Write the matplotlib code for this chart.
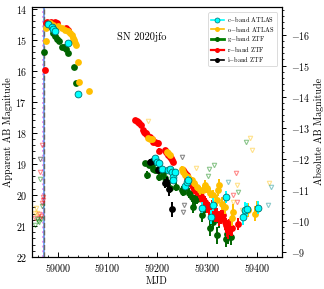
import matplotlib
matplotlib.use("Agg")
import matplotlib.pyplot as plt
from matplotlib.lines import Line2D
from matplotlib.ticker import MultipleLocator, AutoMinorLocator

plt.rcParams['font.family'] = 'serif'
plt.rcParams['font.serif'] = ['cmr10']
plt.rcParams['mathtext.fontset'] = 'cm'
plt.rcParams['axes.formatter.use_mathtext'] = True
plt.rcParams['axes.unicode_minus'] = True

DIST_MOD = 30.83

# ---- detections ----
r_mjd = [58974.0, 58975, 58978, 58982, 58986, 58990, 58994, 58998, 59017, 59021,
         59154.8, 59158.1, 59161.5, 59163.5, 59166.1, 59170.2, 59172.8, 59174.9, 59176.9, 59179.5,
         59183.6, 59184.9, 59188.2, 59191.6, 59195.0, 59198.3, 59201.7, 59203.7, 59215.0, 59217.1,
         59219.7, 59221.8, 59225.1, 59227.1, 59229.1, 59231.8, 59250.6, 59253.2, 59255.9, 59258.6,
         59260.0, 59262.6, 59265.3, 59268.7, 59270.7, 59273.3, 59276.7, 59280.0, 59284.1, 59286.7,
         59288.8, 59292.1, 59295.5, 59297.5, 59300.1, 59304.2, 59306.8, 59309.5, 59312.2, 59315.6,
         59318.9, 59322.9, 59326.9, 59331.0, 59335.7, 59337.7, 59340.3, 59342.4, 59344.4, 59347.0,
         59349.1, 59362.5]
r_mag = [15.97, 14.45, 14.44, 14.45, 14.43, 14.45, 14.44, 14.47, 14.62, 14.67,
         17.59, 17.61, 17.64, 17.69, 17.75, 17.91, 17.96, 18.02, 17.99, 18.07,
         18.12, 18.14, 18.21, 18.28, 18.28, 18.32, 18.34, 18.58, 18.55, 18.61,
         18.66, 18.72, 18.77, 18.82, 18.86, 18.93, 19.20, 19.25, 19.31, 19.36,
         19.47, 19.58, 19.63, 19.68, 19.76, 19.82, 19.85, 19.90, 19.95, 20.04,
         20.12, 20.17, 20.22, 20.28, 20.38, 20.44, 20.49, 20.38, 20.55, 20.65,
         20.65, 20.76, 20.71, 20.65, 20.87, 20.98, 21.08, 21.14, 21.03, 21.08,
         21.08, 20.94]
r_err = [0.04, 0.03, 0.03, 0.03, 0.03, 0.03, 0.03, 0.03, 0.03, 0.03,
         0.03, 0.03, 0.03, 0.03, 0.04, 0.04, 0.04, 0.04, 0.04, 0.04,
         0.04, 0.04, 0.05, 0.05, 0.05, 0.05, 0.05, 0.08, 0.06, 0.06,
         0.06, 0.06, 0.07, 0.07, 0.07, 0.08, 0.08, 0.08, 0.09, 0.10,
         0.12, 0.12, 0.12, 0.13, 0.14, 0.14, 0.15, 0.15, 0.15, 0.16,
         0.18, 0.18, 0.18, 0.18, 0.20, 0.20, 0.20, 0.20, 0.22, 0.22,
         0.22, 0.24, 0.22, 0.22, 0.25, 0.25, 0.28, 0.28, 0.25, 0.25,
         0.25, 0.20]

g_mjd = [58972.5, 58990.6, 58994.0, 58997.3, 59002.7, 59007.4, 59012.1, 59016.1, 59020.8, 59032.2,
         59036.2, 59174.9, 59179.5, 59183.6, 59188.2, 59191.6, 59195.0, 59198.3, 59203.7, 59211.7,
         59215.0, 59225.1, 59237.2, 59248.6, 59251.9, 59255.3, 59264.0, 59268.7, 59270.7, 59275.4,
         59278.7, 59288.8, 59292.1, 59305.5, 59310.9, 59315.6, 59320.2, 59324.3, 59337.7, 59340.3,
         59342.4, 59347.0]
g_mag = [15.38, 14.79, 14.89, 14.98, 15.05, 15.22, 15.22, 15.30, 15.41, 15.88,
         16.38, 18.98, 19.36, 19.04, 19.04, 19.15, 19.20, 19.20, 19.42, 19.31,
         19.47, 19.79, 19.74, 19.85, 19.90, 19.79, 19.95, 20.06, 20.38, 20.17,
         20.12, 20.65, 20.49, 21.08, 20.87, 20.65, 21.30, 20.81, 21.41, 21.25,
         21.30, 21.35]
g_err = [0.03, 0.03, 0.03, 0.03, 0.03, 0.03, 0.03, 0.03, 0.03, 0.04,
         0.05, 0.06, 0.12, 0.08, 0.08, 0.09, 0.10, 0.10, 0.14, 0.10,
         0.12, 0.15, 0.15, 0.15, 0.15, 0.15, 0.16, 0.18, 0.20, 0.18,
         0.18, 0.22, 0.20, 0.26, 0.24, 0.22, 0.28, 0.25, 0.28, 0.26,
         0.28, 0.28]

i_mjd = [59184.9, 59188.2, 59201.7, 59215.0, 59218.4, 59223.1, 59228.5]
i_mag = [18.93, 18.91, 19.20, 19.63, 19.58, 19.82, 20.47]
i_err = [0.08, 0.08, 0.10, 0.15, 0.15, 0.22, 0.25]

c_mjd = [58980.5, 58987.3, 58990.6, 58994.0, 59020.8, 59040.8,
         59195.0, 59199.6, 59203.7, 59208.4, 59221.8, 59225.1, 59228.5, 59230.5, 59231.8, 59235.2,
         59255.3, 59258.6, 59261.9, 59288.8, 59307.5, 59310.9, 59337.7, 59372.5, 59375.9, 59379.2,
         59402.7]
c_mag = [14.48, 14.59, 14.66, 14.73, 15.11, 16.75,
         18.82, 18.93, 18.98, 19.15, 19.20, 19.15, 19.25, 19.42, 19.52, 19.25,
         19.72, 19.58, 19.52, 20.41, 20.71, 20.31, 20.06, 20.71, 20.49, 20.47,
         20.41]
c_err = [0.02, 0.02, 0.02, 0.02, 0.03, 0.05,
         0.05, 0.05, 0.05, 0.06, 0.06, 0.06, 0.07, 0.08, 0.08, 0.07,
         0.12, 0.12, 0.12, 0.18, 0.22, 0.20, 0.20, 0.25, 0.25, 0.22,
         0.20]

o_mjd = [58975.9, 58975.9, 58983.9, 58990.6, 59000.7, 59007.4, 59014.1, 59020.8, 59024.1, 59027.5,
         59030.8, 59032.8, 59034.2, 59036.2, 59039.5, 59042.9, 59062.9,
         59181.6, 59184.9, 59188.2, 59218.4, 59221.8, 59225.1, 59248.6, 59251.9, 59255.3, 59261.9,
         59268.7, 59273.3, 59278.7, 59285.4, 59292.1, 59296.1, 59298.8, 59305.5, 59312.2, 59318.9,
         59322.3, 59324.3, 59329.0, 59335.7, 59349.1, 59352.4, 59382.6, 59396.0, 59399.3]
o_mag = [14.62, 15.03, 14.46, 14.52, 14.57, 14.62, 14.68, 14.73, 14.79, 14.84,
         14.95, 15.02, 15.11, 15.16, 15.70, 16.35, 16.64,
         18.18, 18.20, 18.21, 18.61, 18.66, 18.72, 19.15, 19.25, 19.36, 19.42,
         19.52, 19.63, 19.74, 19.85, 19.83, 19.68, 19.79, 19.95, 20.01, 20.17,
         19.85, 19.68, 20.28, 20.38, 20.76, 20.55, 20.49, 20.60, 20.44]
o_err = [0.02, 0.02, 0.02, 0.02, 0.02, 0.02, 0.02, 0.02, 0.02, 0.02,
         0.02, 0.02, 0.02, 0.02, 0.03, 0.04, 0.05,
         0.04, 0.04, 0.04, 0.05, 0.05, 0.05, 0.08, 0.08, 0.09, 0.10,
         0.10, 0.12, 0.12, 0.14, 0.14, 0.15, 0.15, 0.16, 0.18, 0.18,
         0.20, 0.20, 0.20, 0.22, 0.25, 0.25, 0.22, 0.25, 0.25]

# ---- upper limits ----
ul_r_mjd = [58967.2, 58963.8, 58969.2, 58969.2, 58967.8, 58962.4, 58965.2, 58953.8, 58963.8,
            59357.8, 59351.7, 59360.4]
ul_r_mag = [18.39, 19.26, 20.08, 20.17, 20.26, 20.62, 20.68, 20.73, 20.76,
            19.28, 19.99, 20.22]
ul_g_mjd = [58963.8, 58967.2, 58957.2, 58959.8, 58962.4, 58965.2, 58954.4,
            59304.2, 59313.5, 59302.2, 59362.5, 59377.9]
ul_g_mag = [19.50, 20.36, 20.79, 20.83, 20.87, 20.79, 20.98,
            19.17, 19.02, 19.39, 19.90, 18.28]
ul_o_mjd = [58955.2, 58953.1, 58958.4, 59181.6, 59277.4, 59359.1, 59352.4, 59424.8, 59385.9,
            59389.3, 59369.2]
ul_o_mag = [20.42, 20.58, 20.58, 17.62, 19.12, 19.68, 20.22, 19.61, 18.18,
            18.55, 20.49]
ul_c_mjd = [59342.4, 59422.7, 59428.1]
ul_c_mag = [19.58, 20.33, 19.76]
ul_i_mjd = [58963.8, 59248.6, 59253.2, 59250.6]
ul_i_mag = [18.85, 18.77, 20.33, 20.55]

explosion_mjd = 58972.5
last_nondet_mjd = 58969.2

legend_labels = [r'c$-$band ATLAS', r'o$-$band ATLAS', r'g$-$band ZTF', r'r$-$band ZTF', r'i$-$band ZTF']

C_CYAN = '#00ffff'
C_ORANGE = '#ffbf00'
C_GREEN = '#006400'
C_RED = '#ff0000'
C_BLACK = '#000000'

fig = plt.figure(figsize=(3.24, 2.89), dpi=100)
ax = fig.add_axes([0.099, 0.111, 0.771, 0.866])

ax.axvline(last_nondet_mjd, color='violet', ls=':', lw=1.3, zorder=1)
ax.axvline(explosion_mjd, color='cornflowerblue', ls='-', lw=1.2, zorder=1)
ax.axvline(explosion_mjd, color='dimgray', ls='--', lw=1.0, zorder=1)

ul_kw = dict(marker='v', ls='none', mfc='none', ms=3.2, mew=0.8, alpha=0.45, zorder=2)
ax.plot(ul_r_mjd, ul_r_mag, mec=C_RED, **ul_kw)
ax.plot(ul_g_mjd, ul_g_mag, mec='green', **ul_kw)
ax.plot(ul_o_mjd, ul_o_mag, mec=C_ORANGE, **ul_kw)
ax.plot(ul_c_mjd, ul_c_mag, mec='darkcyan', **ul_kw)
ax.plot(ul_i_mjd, ul_i_mag, mec='black', **ul_kw)

eb_kw = dict(fmt='o', ms=4.9, elinewidth=1.4, capsize=0, mew=0)
ax.errorbar(g_mjd, g_mag, yerr=g_err, color=C_GREEN, zorder=3, **eb_kw)
ax.errorbar(r_mjd, r_mag, yerr=r_err, color=C_RED, zorder=4, **eb_kw)
ax.errorbar(i_mjd, i_mag, yerr=i_err, color=C_BLACK, zorder=5, **eb_kw)
ax.errorbar(o_mjd, o_mag, yerr=o_err, color=C_ORANGE, zorder=6, **eb_kw)
ax.errorbar(c_mjd, c_mag, yerr=c_err, fmt='o', ms=4.9, elinewidth=1.4, capsize=0,
            color=C_CYAN, mec='#007070', mew=0.6, zorder=7)

ax.set_xlim(58948, 59450)
ax.set_ylim(22, 13.93)
ax.xaxis.set_major_locator(MultipleLocator(100))
ax.xaxis.set_minor_locator(AutoMinorLocator(5))
ax.yaxis.set_major_locator(MultipleLocator(1))
ax.yaxis.set_minor_locator(AutoMinorLocator(5))
ax.tick_params(which='both', direction='in', labelsize=7.2, top=False, right=False)
ax.tick_params(which='major', length=3.5, width=0.7)
ax.tick_params(which='minor', length=1.8, width=0.6)
ax.set_xlabel('MJD', fontsize=7.2, labelpad=2)
ax.set_ylabel('Apparent AB Magnitude', fontsize=7.2, labelpad=2)

ax2 = ax.twinx()
lo, hi = ax.get_ylim()
ax2.set_ylim(lo - DIST_MOD, hi - DIST_MOD)
ax2.yaxis.set_major_locator(MultipleLocator(1))
ax2.yaxis.set_minor_locator(AutoMinorLocator(5))
ax2.tick_params(which='both', direction='out', labelsize=7.2)
ax2.tick_params(which='major', length=3.0, width=0.7)
ax2.tick_params(which='minor', length=1.6, width=0.6)
ax2.set_ylabel('Absolute AB Magnitude', fontsize=7.2, labelpad=3)

ax.text(59168, 14.9, 'SN 2020jfo', fontsize=7.5, ha='center', va='center')

handles = [
    Line2D([], [], color=C_CYAN, marker='o', ms=3.6, mec='#007070', mew=0.5, lw=1.2),
    Line2D([], [], color=C_ORANGE, marker='o', ms=3.6, mew=0, lw=1.2),
    Line2D([], [], color='green', marker='o', ms=3.6, mfc=C_GREEN, mew=0, lw=2.0),
    Line2D([], [], color=C_RED, marker='o', ms=3.6, mew=0, lw=1.6),
    Line2D([], [], color=C_BLACK, marker='o', ms=3.6, mew=0, lw=1.2),
]
leg = ax.legend(handles, legend_labels, loc='upper right', fontsize=4.6, frameon=True,
                handlelength=2.0, borderpad=0.4, labelspacing=0.12, handletextpad=0.6,
                borderaxespad=0.3, bbox_to_anchor=(0.99, 0.985))
leg.get_frame().set_linewidth(0.6)

fig.savefig('out.png', dpi=100)
